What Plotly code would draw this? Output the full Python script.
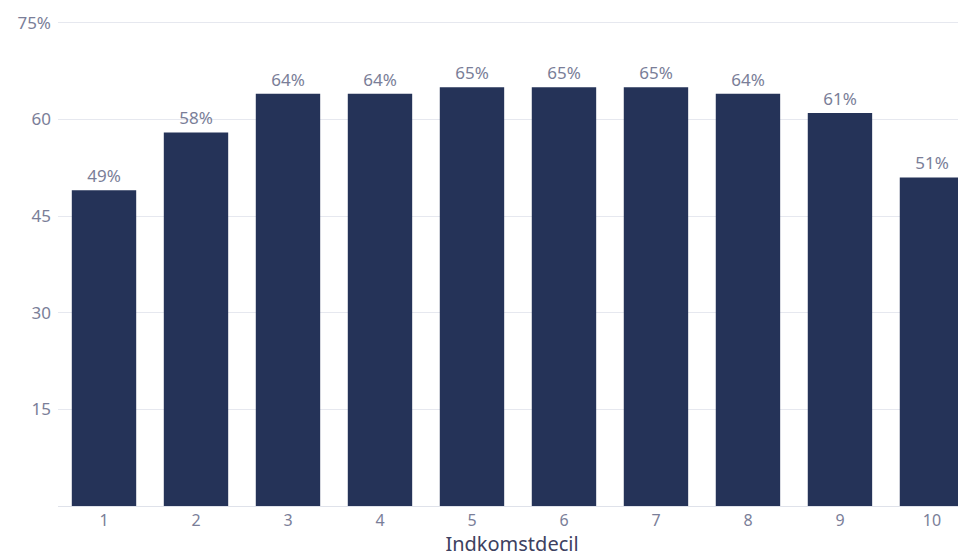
import plotly.graph_objects as go

deciles = [1, 2, 3, 4, 5, 6, 7, 8, 9, 10]
values = [49, 58, 64, 64, 65, 65, 65, 64, 61, 51]
tick_vals = [15, 30, 45, 60, 75]
tick_text = ["15", "30", "45", "60", "75%"]
labels = [f"{v}%" for v in values]

FONT = "Noto Sans"
fig = go.Figure(go.Bar(
    x=deciles, y=values, text=labels, textposition="outside",
    textfont=dict(color="#7a7e98", size=17, family=FONT),
    marker=dict(color="#253358", line=dict(width=0)),
    width=0.7, cliponaxis=False,
))
fig.update_layout(
    width=958, height=549,
    margin=dict(l=50, r=0, t=2, b=51),
    paper_bgcolor="white", plot_bgcolor="white",
    showlegend=False,
    font=dict(family=FONT, color="#7a7e98", size=17),
    xaxis=dict(range=[0.5, 10.37], tickvals=deciles, ticktext=[str(d) for d in deciles],
               showgrid=False, showline=True, linecolor="#dfe2ea", linewidth=1,
               ticks="", tickfont=dict(size=16, color="#7a7e98"),
               title=dict(text="Indkomstdecil", font=dict(size=20, color="#3d4160"), standoff=7)),
    yaxis=dict(range=[0, 77], tickvals=tick_vals, ticktext=tick_text,
               showgrid=True, gridcolor="#e6e8ef", gridwidth=1, zeroline=False,
               ticks="", tickfont=dict(size=17, color="#7a7e98"), ticklabelstandoff=6),
)
fig.write_html("out.html")
